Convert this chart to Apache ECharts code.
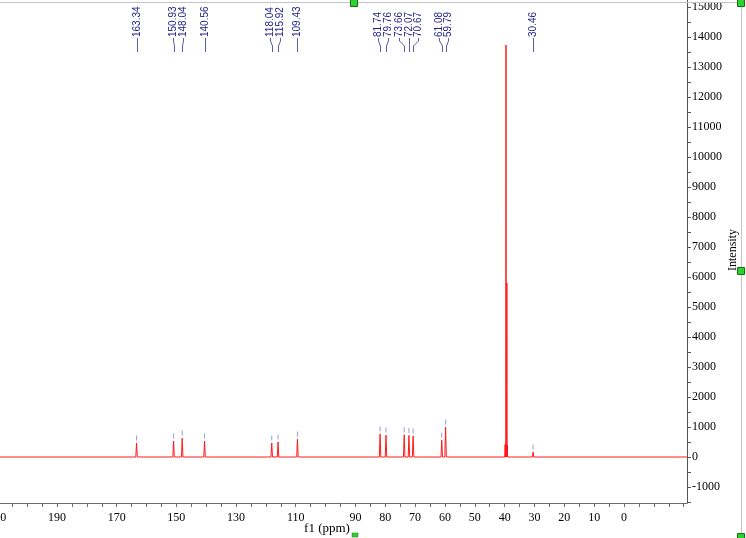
<!DOCTYPE html>
<html><head><meta charset="utf-8">
<script src="https://cdn.jsdelivr.net/npm/echarts@6/dist/echarts.min.js"></script>
<style>html,body{margin:0;padding:0;background:#fff}#c{width:746px;height:538px}</style>
</head><body><div id="c"></div>
<script>
// ---- data ----
const peakPpm = [163.34,150.93,148.04,140.56,118.04,115.92,109.43,81.74,79.76,73.66,72.07,70.67,61.08,59.79,30.46];
const peakInt = [470,530,630,530,470,500,600,770,730,740,720,700,560,1000,170];
const peakLabels = ["163.34","150.93","148.04","140.56","118.04","115.92","109.43","81.74","79.76","73.66","72.07","70.67","61.08","59.79","30.46"];
const solventPpm = [39.85,39.70,39.55,39.40,39.25,39.10];
const solventInt = [420,380,13730,450,5800,400];
const xLabelValues = [210,190,170,150,130,110,90,80,70,60,50,40,30,20,10,0];
const yLabelValues = [-1000,0,1000,2000,3000,4000,5000,6000,7000,8000,9000,10000,11000,12000,13000,14000,15000];

const X_MIN = -21.1, X_MAX = 210, Y_MIN = -1533, Y_MAX = 15233;

// tick positions (every 5 ppm / every 500 units)
const xTicks = []; for (let v = -20; v <= 210; v += 5) xTicks.push(v);
const yTicks = []; for (let v = -1500; v <= 15000; v += 500) yTicks.push(v);

// build spectrum line from peak lists
const lines = [];
peakPpm.forEach((p,i)=>lines.push({p, h:peakInt[i], w:0.25}));
solventPpm.forEach((p,i)=>lines.push({p, h:solventInt[i], w:0.07}));
lines.sort((a,b)=>b.p-a.p);
const spectrum = [[X_MAX,0]];
lines.forEach(l=>{ spectrum.push([l.p+l.w,0],[l.p,l.h],[l.p-l.w,0]); });
spectrum.push([X_MIN,0]);

const markers = peakPpm.map((p,i)=>[p, peakInt[i]]);

const serif = 'Liberation Serif';
const chart = echarts.init(document.getElementById('c'), null, {renderer:'canvas'});
chart.setOption({
  animation:false,
  backgroundColor:'#fff',
  grid:{left:-2.7, right:59, top:0, bottom:35, containLabel:false, outerBoundsMode:'none'},
  xAxis:{
    type:'value', inverse:true, min:X_MIN, max:X_MAX, position:'bottom',
    axisLine:{onZero:false, lineStyle:{color:'#6a6a6a', width:1}},
    axisTick:{show:true, length:4, customValues:xTicks, lineStyle:{color:'#6a6a6a'}},
    axisLabel:{customValues:xLabelValues, color:'#000', fontFamily:serif, fontSize:12, margin:9, formatter:v=>String(v)},
    splitLine:{show:false}
  },
  yAxis:{
    type:'value', position:'right', min:Y_MIN, max:Y_MAX,
    axisLine:{show:true, onZero:false, lineStyle:{color:'#555', width:1}},
    axisTick:{show:true, length:4, customValues:yTicks, lineStyle:{color:'#555'}},
    axisLabel:{customValues:yLabelValues, color:'#000', fontFamily:serif, fontSize:12, margin:5, align:'left', formatter:v=>String(v)},
    splitLine:{show:false}
  },
  series:[
    {type:'line', data:spectrum, showSymbol:false, symbol:'none', lineStyle:{color:'#ff1a1a', width:1}, z:2},
    {type:'scatter', data:markers, symbol:'rect', symbolSize:[1,5], symbolOffset:[0,-5],
     itemStyle:{color:'#7f84c8'}, z:3, silent:true}
  ]
});

// peak label layout (spread overlapping labels in pixel space)
function spread(xs, gap){
  const clusters = [];
  xs.forEach((x,i)=>{
    clusters.push({idx:[i], desired:[x], start:x});
    while (clusters.length > 1){
      const b = clusters[clusters.length-1], a = clusters[clusters.length-2];
      const aEnd = a.start + (a.idx.length-1)*gap;
      if (b.start < aEnd + gap){
        const idx = a.idx.concat(b.idx), desired = a.desired.concat(b.desired);
        const mean = desired.reduce((s,v)=>s+v,0)/desired.length;
        clusters.splice(-2,2,{idx, desired, start: mean-(idx.length-1)*gap/2});
      } else break;
    }
  });
  const out = [];
  clusters.forEach(c=>c.idx.forEach((i,k)=>out[i]=c.start+k*gap));
  return out;
}
const px = peakPpm.map(p=>chart.convertToPixel({xAxisIndex:0}, p));
const lx = spread(px, 9.5);
const graphics = [];
peakLabels.forEach((t,i)=>{
  const x0 = Math.round(lx[i]) + 0.5, x1 = Math.round(px[i]) + 0.5;
  graphics.push({type:'text', x:x0, y:37, rotation:Math.PI/2, silent:true,
    style:{text:t, fontSize:10, fontFamily:'Liberation Sans', fill:'#23238c', align:'left', verticalAlign:'middle'}});
  graphics.push({type:'polyline', silent:true,
    shape:{points:[[x0,38],[x0,41],[x1,46],[x1,52]]},
    style:{stroke:'#5c5cab', lineWidth:1, fill:null}});
});
// frame, handles and axis titles
graphics.push(
  {type:'rect', shape:{x:688, y:0, width:52, height:2.5}, style:{fill:'#fff'}, z:10},
  {type:'line', shape:{x1:0, y1:2.5, x2:741.5, y2:2.5}, style:{stroke:'#c4c4c4', lineWidth:1}, z:10},
  {type:'line', shape:{x1:741.5, y1:0, x2:741.5, y2:538}, style:{stroke:'#c4c4c4', lineWidth:1}, z:10},
  {type:'text', x:733, y:250, rotation:Math.PI/2, z:10,
    style:{text:'Intensity', fontSize:12, fontFamily:serif, fill:'#000', align:'center', verticalAlign:'middle'}},
  {type:'text', x:327, y:529, z:10,
    style:{text:'f1 (ppm)', fontSize:13, fontFamily:serif, fill:'#000', align:'center', verticalAlign:'middle'}},
  {type:'rect', shape:{x:350.5, y:-0.5, width:7, height:7}, style:{fill:'#2fd12f', stroke:'#157015', lineWidth:1}, z:11},
  {type:'rect', shape:{x:737.5, y:-0.5, width:7, height:7}, style:{fill:'#2fd12f', stroke:'#157015', lineWidth:1}, z:11},
  {type:'rect', shape:{x:737.5, y:267.5, width:7, height:7}, style:{fill:'#2fd12f', stroke:'#157015', lineWidth:1}, z:11},
  {type:'rect', shape:{x:737.5, y:533.5, width:7, height:7}, style:{fill:'#2fd12f', stroke:'#157015', lineWidth:1}, z:11},
  {type:'rect', shape:{x:352, y:533, width:6, height:4}, style:{fill:'#2fd12f', stroke:'#157015', lineWidth:0.5}, z:11}
);
chart.setOption({graphic:graphics});
</script></body></html>
